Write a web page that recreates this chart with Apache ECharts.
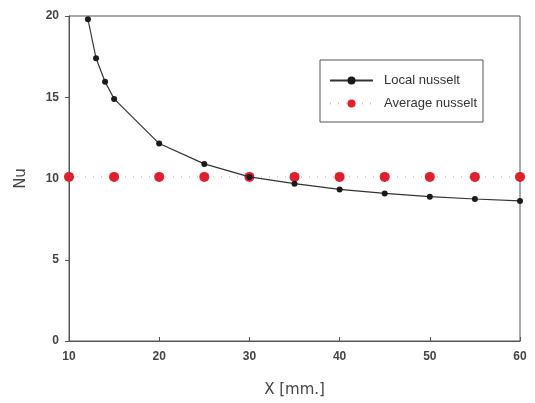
<!DOCTYPE html>
<html><head><meta charset="utf-8">
<script src="https://cdn.jsdelivr.net/npm/echarts@6/dist/echarts.min.js"></script>
<style>html,body{margin:0;padding:0;background:#fff}#c{width:535px;height:403px}</style>
</head><body><div id="c"></div>
<script>
const localX = [12.1, 13.0, 14.0, 15.0, 20.0, 25.0, 30.0, 35.0, 40.0, 45.0, 50.0, 55.0, 60.0];
const localNu = [19.8, 17.4, 15.95, 14.9, 12.15, 10.9, 10.1, 9.68, 9.33, 9.08, 8.88, 8.74, 8.62];
const avgX = [10, 15, 20, 25, 30, 35, 40, 45, 50, 55, 60];
const avgNu = [10.1, 10.1, 10.1, 10.1, 10.1, 10.1, 10.1, 10.1, 10.1, 10.1, 10.1];
const seriesNames = ['Local nusselt', 'Average nusselt'];

const chart = echarts.init(document.getElementById('c'), null, {renderer: 'canvas'});
const tickFont = {color: '#444', fontFamily: 'Liberation Sans', fontWeight: 'bold', fontSize: 12};
chart.setOption({
  animation: false,
  grid: {left: 69, right: 15, top: 16, bottom: 62, show: true, borderColor: '#555', borderWidth: 1},
  legend: {
    left: 320, top: 60, orient: 'vertical',
    data: seriesNames,
    itemWidth: 43, itemHeight: 10, itemGap: 10,
    borderColor: '#555', borderWidth: 1, borderRadius: 0,
    padding: [14, 6, 12, 9],
    textStyle: {fontFamily: 'Liberation Sans', fontSize: 13, color: '#333', padding: [0, 0, 0, 6]}
  },
  xAxis: {
    type: 'value', min: 10, max: 60, interval: 10,
    name: 'X [mm.]', nameLocation: 'middle', nameGap: 42,
    nameTextStyle: {fontFamily: 'DejaVu Sans', fontSize: 15, color: '#444'},
    axisLine: {lineStyle: {color: '#555', width: 1}},
    axisTick: {show: true, inside: true, length: 4, lineStyle: {color: '#555'}},
    axisLabel: Object.assign({margin: 10}, tickFont),
    splitLine: {show: false}
  },
  yAxis: {
    type: 'value', min: 0, max: 20, interval: 5,
    name: 'Nu', nameLocation: 'middle', nameGap: 40,
    nameTextStyle: {fontFamily: 'DejaVu Sans', fontSize: 15, color: '#444'},
    axisLine: {show: true, lineStyle: {color: '#555', width: 1}},
    axisTick: {show: true, inside: false, length: 4, lineStyle: {color: '#555'}},
    axisLabel: Object.assign({margin: 10}, tickFont),
    splitLine: {show: false}
  },
  series: [
    {
      name: seriesNames[0], type: 'line',
      data: localX.map((x, i) => [x, localNu[i]]),
      symbol: 'circle', symbolSize: 6,
      itemStyle: {color: '#1a1a1a'},
      lineStyle: {color: '#333', width: 1.2},
      z: 3
    },
    {
      name: seriesNames[1], type: 'line',
      data: avgX.map((x, i) => [x, avgNu[i]]),
      symbol: 'circle', symbolSize: 10,
      itemStyle: {color: '#e01e2e'},
      lineStyle: {color: '#f0b0b4', width: 1.2, type: [1, 7]},
      z: 2
    }
  ]
});
</script></body></html>
